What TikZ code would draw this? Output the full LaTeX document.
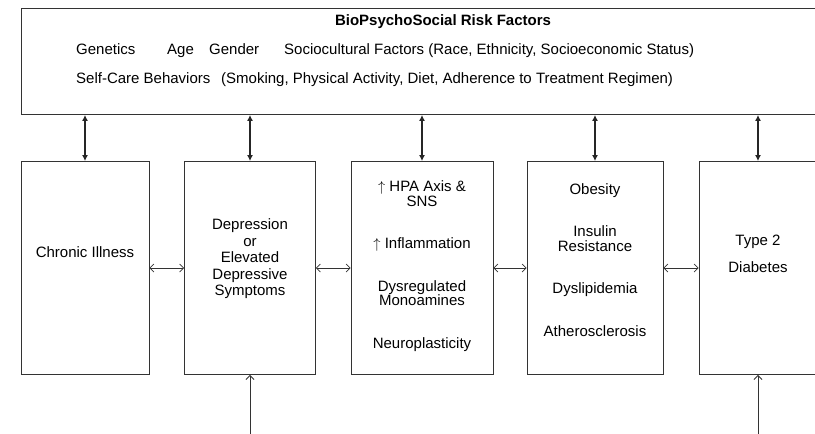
\documentclass[tikz,border=0pt]{standalone}
\usepackage{fontspec}
\setmainfont{Liberation Sans}
\usetikzlibrary{arrows.meta}

\begin{document}
\begin{tikzpicture}[x=1pt, y=-1pt,
  box/.style={shape=rectangle, draw=black!80, line width=0.9pt, minimum height=213pt, inner sep=0pt},
  txt/.style={align=center, font=\fontsize{15}{14.5}\selectfont, inner sep=0pt},
  topline/.style={anchor=base west, font=\fontsize{15}{18}\selectfont, inner sep=0pt},
  updown/.style={{Latex[length=6pt,width=6pt]}-{Latex[length=6pt,width=6pt]}, line width=1.2pt, draw=black!85},
  both/.style={{Straight Barb[length=4pt,width=8pt]}-{Straight Barb[length=4pt,width=8pt]}, line width=0.7pt, draw=black!80},
  upin/.style={-{Straight Barb[length=4pt,width=8pt]}, line width=0.9pt, draw=black!80}]
\useasboundingbox (0,0) rectangle (815,434);
\clip (0,0) rectangle (815,434);

% risk factors box, runs off the right edge
\node[box, minimum width=830pt, minimum height=106pt, anchor=north west] (risk) at (21,8) {};
\node[anchor=base, inner sep=0pt, font=\fontsize{15}{18}\selectfont\bfseries] (title) at (443,25.5) {BioPsychoSocial Risk Factors};
\node[topline] (gen) at (76,54.5) {Genetics};
\node[topline] (age) at (167,54.5) {Age};
\node[topline] (gend) at (209,54.5) {Gender};
\node[topline] (socio) at (284,54.5) {Sociocultural Factors (Race, Ethnicity, Socioeconomic Status)};
\node[topline] (self) at (76,83.5) {Self-Care Behaviors};
\node[topline] (behav) at (221,83.5) {(Smoking, Physical Activity, Diet, Adherence to Treatment Regimen)};

% the five boxes
\node[box, minimum width=128pt] (ill) at (85,268) {};
\node[box, minimum width=131pt] (dep) at (250,268) {};
\node[box, minimum width=142pt] (hpa) at (422,268) {};
\node[box, minimum width=136pt] (met) at (595,268) {};
\node[box, minimum width=118pt] (dia) at (758,268) {};

\node[txt] (illtxt) at (85,252) {Chronic Illness};
\node[txt, font=\fontsize{15}{16.5}\selectfont] (deptxt) at (250,259) {Depression\\or\\Elevated\\Depressive\\Symptoms};
\node[txt] (hpatxt) at (422,266) {$\uparrow$ HPA Axis \&\\SNS\\[28pt]$\uparrow$ Inflammation\\[28pt]Dysregulated\\Monoamines\\[28pt]Neuroplasticity};
\node[txt] (mettxt) at (595,260) {Obesity\\[28pt]Insulin\\Resistance\\[28pt]Dyslipidemia\\[28pt]Atherosclerosis};
\node[txt] (diatxt) at (758,253.5) {Type 2\\[12.5pt]Diabetes};

% arrows from the top box
\draw[updown] (ill.north |- risk.south) -- (ill.north);
\draw[updown] (dep.north |- risk.south) -- (dep.north);
\draw[updown] (hpa.north |- risk.south) -- (hpa.north);
\draw[updown] (met.north |- risk.south) -- (met.north);
\draw[updown] (dia.north |- risk.south) -- (dia.north);

% arrows between boxes
\draw[both] (ill.east) -- (dep.west);
\draw[both] (dep.east) -- (hpa.west);
\draw[both] (hpa.east) -- (met.west);
\draw[both] (met.east) -- (dia.west);

% arrows coming in from below
\coordinate (depfoot) at (250,434);
\coordinate (diafoot) at (758,434);
\draw[upin] (depfoot) -- (dep.south);
\draw[upin] (diafoot) -- (dia.south);
\end{tikzpicture}
\end{document}
